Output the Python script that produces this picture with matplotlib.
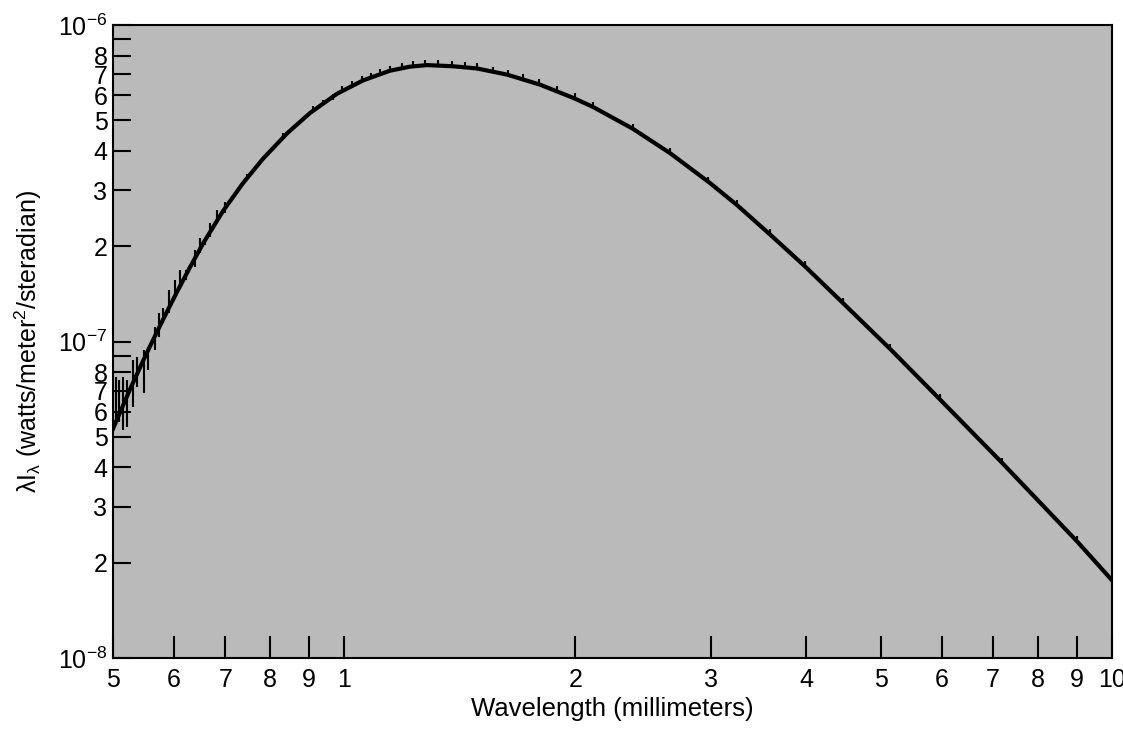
import numpy as np
import matplotlib.pyplot as plt
from matplotlib.ticker import FixedLocator, NullLocator

plt.rcParams['font.family'] = ['Liberation Sans', 'DejaVu Sans']
plt.rcParams['mathtext.fontset'] = 'custom'
plt.rcParams['mathtext.rm'] = 'Liberation Sans'
plt.rcParams['mathtext.it'] = 'Liberation Sans'
plt.rcParams['mathtext.default'] = 'regular'

# fitted curve (wavelength in mm, lambda*I in 1e-7 W/m^2/sr)
curve_lam = [0.500, 0.506, 0.526, 0.547, 0.564, 0.581, 0.606, 0.630, 0.655, 0.695,
             0.738, 0.784, 0.843, 0.903, 0.979, 1.058, 1.147, 1.218, 1.282, 1.382,
             1.489, 1.630, 1.799, 1.986, 2.109, 2.377, 2.656, 2.994, 3.247, 3.585,
             3.98, 4.46, 5.14, 5.97, 7.19, 9.00, 10.0]
curve_flux = [0.530, 0.567, 0.705, 0.867, 1.013, 1.174, 1.437, 1.718, 2.04, 2.578,
              3.16, 3.78, 4.55, 5.275, 6.065, 6.68, 7.17, 7.385, 7.47, 7.41,
              7.29, 6.97, 6.48, 5.89, 5.51, 4.70, 3.94, 3.17, 2.70, 2.18,
              1.73, 1.325, 0.948, 0.656, 0.414, 0.234, 0.176]

# measured points with error bars (same units)
pt_lam = [0.505, 0.509, 0.515, 0.521, 0.531, 0.537, 0.549, 0.555, 0.567, 0.574,
          0.581, 0.591, 0.602, 0.611, 0.622, 0.639, 0.649, 0.659, 0.669, 0.683,
          0.700, 0.747, 0.832, 0.910, 0.938, 0.967, 0.994, 1.024, 1.055, 1.084,
          1.114, 1.147, 1.189, 1.229, 1.274, 1.325, 1.382, 1.436, 1.489, 1.562,
          1.634, 1.710, 1.793, 1.893, 1.998, 2.109, 2.377, 2.656, 2.976, 3.247,
          3.585, 3.98, 4.46, 5.14, 5.97, 7.19, 9.00]
pt_flux = [0.662, 0.656, 0.649, 0.646, 0.748, 0.806, 0.814, 0.887, 1.026, 1.13,
           1.21, 1.34, 1.47, 1.57, 1.62, 1.83, 2.01, 2.06, 2.25, 2.49,
           2.65, 3.32, 4.47, 5.43, 5.69, 5.93, 6.27, 6.51, 6.76, 6.92,
           7.10, 7.28, 7.41, 7.51, 7.57, 7.56, 7.52, 7.46, 7.40, 7.23,
           7.06, 6.83, 6.59, 6.26, 5.96, 5.59, 4.77, 4.00, 3.25, 2.74,
           2.21, 1.76, 1.345, 0.962, 0.666, 0.420, 0.2375]
pt_err = [0.110, 0.099, 0.124, 0.109, 0.127, 0.088, 0.126, 0.074, 0.086, 0.10,
          0.07, 0.11, 0.09, 0.11, 0.06, 0.11, 0.11, 0.04, 0.11, 0.12,
          0.10, 0.07, 0.10, 0.12, 0.12, 0.13, 0.14, 0.14, 0.15, 0.15,
          0.16, 0.16, 0.16, 0.16, 0.17, 0.17, 0.17, 0.16, 0.16, 0.16,
          0.16, 0.15, 0.14, 0.14, 0.13, 0.12, 0.10, 0.09, 0.07, 0.06,
          0.05, 0.04, 0.03, 0.021, 0.015, 0.009, 0.005]

x_ticks = [0.5, 0.6, 0.7, 0.8, 0.9, 1, 2, 3, 4, 5, 6, 7, 8, 9, 10]
x_labels = ['5', '6', '7', '8', '9', '1', '2', '3', '4', '5', '6', '7', '8', '9', '10']
y_ticks = [1e-8, 2e-8, 3e-8, 4e-8, 5e-8, 6e-8, 7e-8, 8e-8, 9e-8,
           1e-7, 2e-7, 3e-7, 4e-7, 5e-7, 6e-7, 7e-7, 8e-7, 9e-7, 1e-6]
y_labels = [r'$10^{-8}$', '2', '3', '4', '5', '6', '7', '8', '',
            r'$10^{-7}$', '2', '3', '4', '5', '6', '7', '8', '',
            r'$10^{-6}$']

scale = 1e-7

fig = plt.figure(figsize=(11.23, 7.31), dpi=100)
ax = fig.add_axes([113 / 1123, 1 - 658 / 731, 999 / 1123, 633 / 731])
ax.set_facecolor('#bababa')

ax.plot(curve_lam, np.array(curve_flux) * scale, color='black', lw=3, zorder=3)
ax.errorbar(pt_lam, np.array(pt_flux) * scale, yerr=np.array(pt_err) * scale,
            fmt='none', ecolor='black', elinewidth=1.5, capsize=0, zorder=4)

ax.set_xscale('log')
ax.set_yscale('log')
ax.set_xlim(0.5, 10)
ax.set_ylim(1e-8, 1e-6)

ax.xaxis.set_major_locator(FixedLocator(x_ticks))
ax.set_xticklabels(x_labels)
ax.xaxis.set_minor_locator(NullLocator())
ax.yaxis.set_major_locator(FixedLocator(y_ticks))
ax.set_yticklabels(y_labels)
ax.yaxis.set_minor_locator(NullLocator())

ax.tick_params(axis='x', direction='in', length=16, width=1.5, pad=7, labelsize=18)
ax.tick_params(axis='y', direction='in', length=13, width=1.5, pad=4, labelsize=18)
for s in ax.spines.values():
    s.set_linewidth(1.5)

ax.set_xlabel('Wavelength (millimeters)', fontsize=18.5, labelpad=4)
ax.set_ylabel(r'λI$_{λ}$ (watts/meter$^{2}$/steradian)', fontsize=18, labelpad=10)

fig.savefig('out.png', dpi=100)
